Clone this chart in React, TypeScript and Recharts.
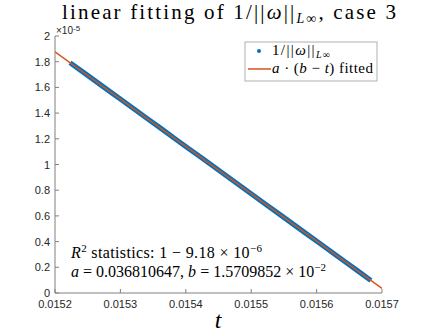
import { ComposedChart, Line, XAxis, YAxis } from "recharts";

// samples of 1/||w||_Linf (units of 1e-5)
const tValues = [
  0.015223, 0.015243, 0.015263, 0.015283, 0.015303, 0.015323, 0.015343, 0.015363,
  0.015383, 0.015403, 0.015423, 0.015443, 0.015463, 0.015483, 0.015503, 0.015523,
  0.015543, 0.015563, 0.015583, 0.015603, 0.015623, 0.015643, 0.015663, 0.015683,
];
const normValues = [
  1.792, 1.719, 1.645, 1.571, 1.498, 1.424, 1.35, 1.277,
  1.203, 1.129, 1.056, 0.982, 0.908, 0.835, 0.761, 0.687,
  0.614, 0.54, 0.466, 0.393, 0.319, 0.245, 0.172, 0.098,
];

// fitted line a*(b-t) at the ends of the axis
const fitT = [0.0152, 0.0157];
const fitValues = [1.877, 0.036];

const xTicks = [0.0152, 0.0153, 0.0154, 0.0155, 0.0156, 0.0157];
const yTicks = [0, 0.2, 0.4, 0.6, 0.8, 1, 1.2, 1.4, 1.6, 1.8, 2];
const yTickLabels = ["0", "0.2", "0.4", "0.6", "0.8", "1", "1.2", "1.4", "1.6", "1.8", "2"];

const samples = tValues.map((t, i) => ({ t, v: normValues[i] }));
const fitted = fitT.map((t, i) => ({ t, f: fitValues[i] }));

const BLUE = "#0072BD";
const ORANGE = "#D95319";
const AXIS = "#808080";
const TEXT = "#262626";
const SANS = "'Liberation Sans', Arial, sans-serif";
const SERIF = "'Liberation Serif', 'Times New Roman', serif";

function XTick(props: any) {
  const { x, y, payload } = props;
  return (
    <g>
      <line x1={x} x2={x} y1={y - 4} y2={y - 8} stroke={AXIS} />
      <text x={x} y={y + 11} textAnchor="middle" fontSize={11} fontFamily={SANS} fill={TEXT}>
        {payload.value.toFixed(4)}
      </text>
    </g>
  );
}

function YTick(props: any) {
  const { x, y, payload } = props;
  const idx = yTicks.indexOf(payload.value);
  return (
    <g>
      <line x1={x + 5} x2={x + 9} y1={y} y2={y} stroke={AXIS} />
      <text x={x} y={y + 4} textAnchor="end" fontSize={11} fontFamily={SANS} fill={TEXT}>
        {idx >= 0 ? yTickLabels[idx] : payload.value}
      </text>
    </g>
  );
}

export default function App() {
  return (
    <div style={{ position: "absolute", left: 0, top: 0, width: 423, height: 332, background: "#fff" }}>
      <ComposedChart width={423} height={332} margin={{ top: 36, right: 41, bottom: 0, left: 0 }}>
        <XAxis
          dataKey="t"
          type="number"
          domain={[0.0152, 0.0157]}
          ticks={xTicks}
          allowDataOverflow
          stroke={AXIS}
          tickLine={false}
          tickSize={0}
          tickMargin={4}
          height={39}
          tick={<XTick />}
        />
        <YAxis
          type="number"
          domain={[0, 2]}
          ticks={yTicks}
          stroke={AXIS}
          tickLine={false}
          tickSize={0}
          tickMargin={5}
          width={55}
          tick={<YTick />}
        />
        <Line
          data={samples}
          dataKey="v"
          type="linear"
          stroke={BLUE}
          strokeWidth={5}
          dot={false}
          isAnimationActive={false}
        />
        <Line
          data={fitted}
          dataKey="f"
          type="linear"
          stroke={ORANGE}
          strokeWidth={1.5}
          dot={false}
          isAnimationActive={false}
        />
      </ComposedChart>
      <svg
        width={423}
        height={332}
        style={{ position: "absolute", left: 0, top: 0, pointerEvents: "none" }}
      >
        <text x={62} y={19} fontSize={21} fontFamily={SERIF} fill="#000" textLength={334} lengthAdjust="spacing">
          linear fitting of 1/||<tspan fontStyle="italic">ω</tspan>||
          <tspan fontSize={14} dy={4} fontStyle="italic">L</tspan>
          <tspan fontSize={14}>∞</tspan>
          <tspan dy={-4}>, case 3</tspan>
        </text>
        <text x={56} y={34} fontSize={10} fontFamily={SANS} fill={TEXT}>
          ×10<tspan fontSize={8} dy={-3}>-5</tspan>
        </text>

        <rect x={245} y={42} width={132} height={39} fill="#fff" stroke="#b0b0b0" strokeWidth={1} />
        <circle cx={259} cy={51} r={2} fill={BLUE} />
        <text x={272} y={55} fontSize={15} fontFamily={SERIF} fill="#000" textLength={58} lengthAdjust="spacing">
          1/||<tspan fontStyle="italic">ω</tspan>||
          <tspan fontSize={10} dy={3} fontStyle="italic">L</tspan>
          <tspan fontSize={10}>∞</tspan>
        </text>
        <line x1={248} x2={271} y1={69} y2={69} stroke={ORANGE} strokeWidth={1.5} />
        <text x={272} y={73} fontSize={15} fontFamily={SERIF} fill="#000" textLength={101} lengthAdjust="spacing">
          <tspan fontStyle="italic">a</tspan> · (<tspan fontStyle="italic">b</tspan> − <tspan fontStyle="italic">t</tspan>) fitted
        </text>

        <text x={71} y={258} fontSize={16} fontFamily={SERIF} fill="#000" textLength={191} lengthAdjust="spacing">
          <tspan fontStyle="italic">R</tspan>
          <tspan fontSize={11} dy={-6}>2</tspan>
          <tspan dy={6}> statistics: 1 − 9.18 × 10</tspan>
          <tspan fontSize={11} dy={-6}>−6</tspan>
        </text>
        <text x={71} y={277} fontSize={16} fontFamily={SERIF} fill="#000" textLength={255} lengthAdjust="spacing">
          <tspan fontStyle="italic">a</tspan> = 0.036810647, <tspan fontStyle="italic">b</tspan> = 1.5709852 × 10
          <tspan fontSize={11} dy={-6}>−2</tspan>
        </text>

        <text x={218} y={328} textAnchor="middle" fontSize={24} fontStyle="italic" fontFamily={SERIF} fill="#000">
          t
        </text>
      </svg>
    </div>
  );
}
